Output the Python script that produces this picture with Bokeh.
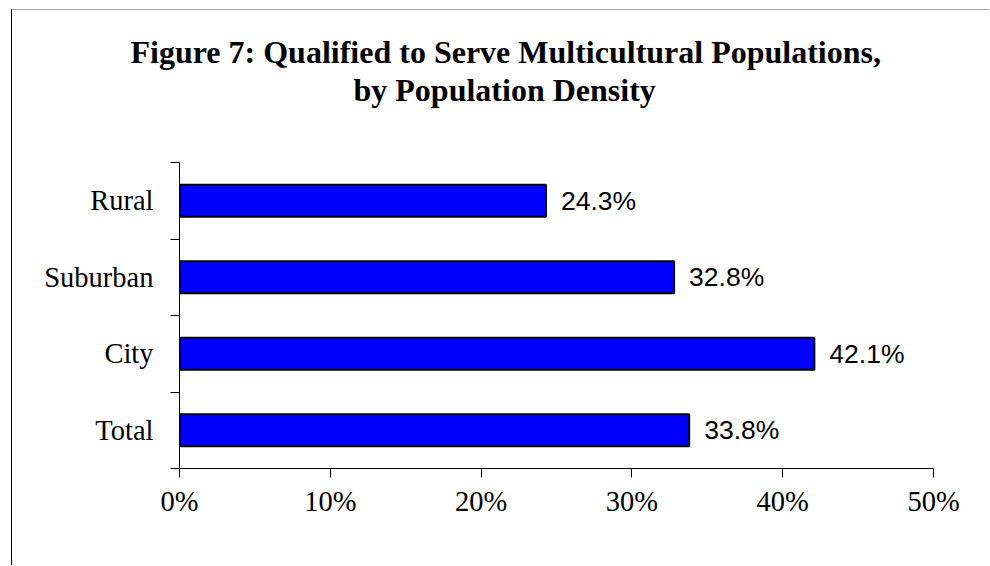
from bokeh.plotting import figure
from bokeh.models import ColumnDataSource, FixedTicker, Range1d, Title
from bokeh.core.properties import value
from bokeh.embed import file_html
from bokeh.resources import INLINE

# ---- data (bottom to top) ----
categories = ["Total", "City", "Suburban", "Rural"]
values = [33.8, 42.1, 32.8, 24.3]
x_ticks = [0, 10, 20, 30, 40, 50]
x_tick_labels = ["0%", "10%", "20%", "30%", "40%", "50%"]
title_line1 = "Figure 7: Qualified to Serve Multicultural Populations,"
title_line2 = "by Population Density"

ypos = [i + 0.5 for i in range(len(categories))]
src = ColumnDataSource(dict(
    y=ypos, v=values, lab=[f"{v:.1f}%" for v in values]))

W, H = 978, 556
p = figure(width=W, height=H, output_backend="svg", toolbar_location=None,
           x_range=Range1d(0, 50), y_range=Range1d(0, len(categories)),
           min_border_left=167, min_border_right=57,
           min_border_top=152, min_border_bottom=98,
           background_fill_color="white", border_fill_color="white")
p.styles = {"border-left": "1px solid #000", "border-top": "1px solid #a0a0a0",
            "margin-left": "11px", "margin-top": "9px"}
p.outline_line_color = None
p.grid.visible = False

p.hbar(y="y", right="v", left=0, height=0.42, source=src,
       fill_color="#0000ff", line_color="black", line_width=2)
p.text(x="v", y="y", text="lab", source=src, x_offset=15,
       text_baseline="middle", text_align="left",
       text_font=value("Liberation Sans"), text_font_size="26.5px",
       text_color="black")

# x axis
xa = p.xaxis[0]
xa.ticker = FixedTicker(ticks=x_ticks)
xa.major_label_overrides = {t: l for t, l in zip(x_ticks, x_tick_labels)}
xa.major_tick_in = 0
xa.major_tick_out = 9
xa.minor_tick_line_color = None
xa.axis_line_color = "black"
xa.major_tick_line_color = "black"
xa.major_label_text_font = "Liberation Serif"
xa.major_label_text_font_size = "28.5px"
xa.major_label_text_color = "black"
xa.major_label_standoff = 8

# y axis: labels at centres, ticks at boundaries
ya = p.yaxis[0]
ya.ticker = FixedTicker(ticks=ypos, minor_ticks=list(range(len(categories) + 1)))
ya.major_label_overrides = {y: c for y, c in zip(ypos, categories)}
ya.major_tick_in = 0
ya.major_tick_out = 0
ya.minor_tick_in = 0
ya.minor_tick_out = 9
ya.minor_tick_line_color = "black"
ya.axis_line_color = "black"
ya.major_label_text_font = "Liberation Serif"
ya.major_label_text_font_size = "28.5px"
ya.major_label_text_color = "black"
ya.major_label_standoff = 17

# title: spacer (next to plot), line 2, line 1 (stacked upwards)
p.add_layout(Title(text=" ", text_font_size="1px", standoff=52), "above")
p.add_layout(Title(text=title_line2, align="left", offset=174, standoff=0,
                   text_font="Liberation Serif", text_font_style="bold",
                   text_font_size="32px", text_color="black"), "above")
p.add_layout(Title(text=title_line1, align="left", offset=-49, standoff=0,
                   text_font="Liberation Serif", text_font_style="bold",
                   text_font_size="32px", text_color="black"), "above")

open("out.html", "w").write(file_html(p, INLINE))
